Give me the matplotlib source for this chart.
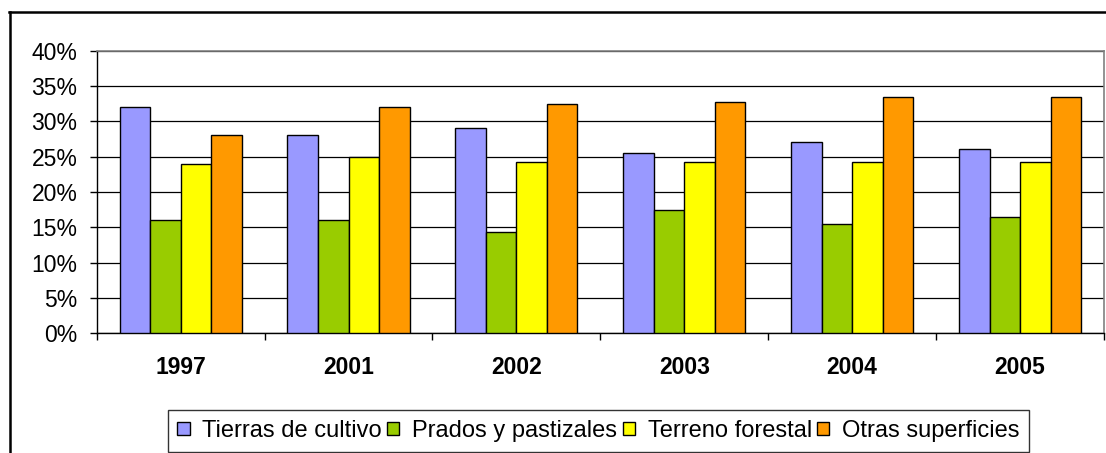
import matplotlib
matplotlib.use("Agg")
import matplotlib.pyplot as plt
import numpy as np
from matplotlib.lines import Line2D

years = ["1997", "2001", "2002", "2003", "2004", "2005"]
series_names = ["Tierras de cultivo", "Prados y pastizales", "Terreno forestal", "Otras superficies"]
tierras = [32.0, 28.1, 29.1, 25.5, 27.1, 26.1]
prados = [16.0, 16.0, 14.4, 17.5, 15.5, 16.5]
forestal = [24.0, 25.0, 24.2, 24.2, 24.2, 24.2]
otras = [28.1, 32.0, 32.5, 32.8, 33.5, 33.5]
colors = ["#9999FF", "#99CC00", "#FFFF00", "#FF9900"]
yticks = [0, 5, 10, 15, 20, 25, 30, 35, 40]
ytick_labels = [f"{v}%" for v in yticks]

plt.rcParams['font.family'] = ['Liberation Sans', 'DejaVu Sans']

W, H = 1106, 453
fig = plt.figure(figsize=(W / 100, H / 100), dpi=100)
ax = fig.add_axes([96.7 / W, 1 - 333.3 / H, (1104 - 96.7) / W, (333.3 - 50.7) / H])

x = np.arange(len(years))
bw = 1 / 5.5
data = [tierras, prados, forestal, otras]
for i, (vals, c, name) in enumerate(zip(data, colors, series_names)):
    ax.bar(x + (i - 1.5) * bw, vals, width=bw, color=c, edgecolor="black",
           linewidth=1.0, label=name, zorder=3)

ax.set_xlim(-0.5, len(years) - 0.5)
ax.set_ylim(0, 40)
ax.set_yticks(yticks)
ax.set_yticklabels(ytick_labels)
ax.yaxis.grid(True, color="black", linewidth=0.9, zorder=0)
ax.set_axisbelow(True)

ax.set_xticks(x)
ax.set_xticklabels(years, fontweight="bold")
ax.set_xticks(np.arange(-0.5, len(years)), minor=True)
ax.tick_params(axis="x", which="major", length=0, pad=16.5, labelsize=16.5)
ax.tick_params(axis="x", which="minor", length=5, width=1, color="black", direction="out")
ax.tick_params(axis="y", length=5, width=1, color="black", pad=9, labelsize=16.5)

for s in ["top", "right"]:
    ax.spines[s].set_color("#808080")
    ax.spines[s].set_linewidth(1.2)
for s in ["left", "bottom"]:
    ax.spines[s].set_color("black")
    ax.spines[s].set_linewidth(1.0)

leg = fig.legend(loc="center", bbox_to_anchor=(598.5 / W, 1 - 431 / H), ncol=4,
                 fontsize=17, frameon=True, fancybox=False, shadow=False,
                 handlelength=0.51, handleheight=0.51, handletextpad=0.55,
                 columnspacing=0.22, borderpad=0.42, borderaxespad=0)
leg.get_frame().set_edgecolor("black")
leg.get_frame().set_linewidth(1.0)
for p in leg.get_patches():
    p.set_linewidth(1.0)

# outer chart border (extends beyond right and bottom edges)
fig.add_artist(Line2D([9.5 / W, 9.5 / W], [0, 1 - 12 / H], transform=fig.transFigure,
                      color="black", linewidth=1.8))
fig.add_artist(Line2D([9 / W, 1], [1 - 12 / H, 1 - 12 / H], transform=fig.transFigure,
                      color="black", linewidth=1.8))

fig.savefig("out.png", dpi=100)
